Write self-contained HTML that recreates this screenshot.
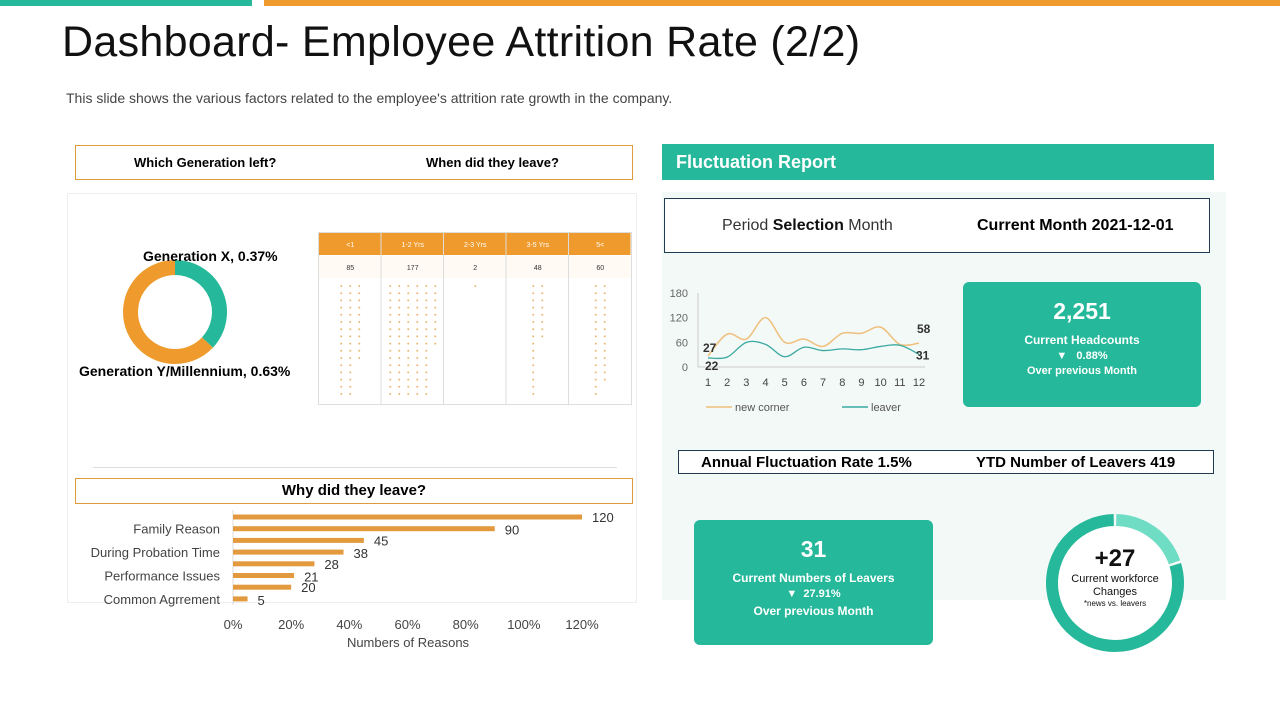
<!DOCTYPE html>
<html><head><meta charset="utf-8"><style>
body{margin:0;width:1280px;height:720px;background:#fff;font-family:"Liberation Sans",sans-serif;position:relative;overflow:hidden}
.a{position:absolute}
.box{position:absolute;border:1px solid #e09a3a;background:#fff}
.tbox{position:absolute;border:1px solid #1f3b52;background:#fff}
.card{position:absolute;background:#25b89a;border-radius:6px;color:#fff;text-align:center;font-weight:bold}
</style></head><body>
<div class="a" style="left:0;top:0;width:252px;height:6px;background:#25b89a"></div>
<div class="a" style="left:264px;top:0;width:1016px;height:6px;background:#ee9a2c"></div>
<div class="a" style="left:62px;top:18px;font-size:43px;color:#111;letter-spacing:0.3px">Dashboard- Employee Attrition Rate (2/2)</div>
<div class="a" style="left:66px;top:90px;font-size:14px;color:#444">This slide shows the various factors related to the employee's attrition rate growth in the company.</div>

<div class="a" style="left:67px;top:193px;width:568px;height:408px;border:1px solid #eee"></div>
<div class="box" style="left:75px;top:145px;width:556px;height:33px;font-size:13px;font-weight:bold">
<span class="a" style="left:58px;top:9px">Which Generation left?</span><span class="a" style="left:350px;top:9px">When did they leave?</span></div>

<svg class="a" style="left:0;top:0" width="640" height="480" id="gd"></svg>
<div class="a" style="left:143px;top:248px;font-size:14px;font-weight:bold">Generation X, 0.37%</div>
<div class="a" style="left:79px;top:363px;font-size:14px;font-weight:bold">Generation Y/Millennium, 0.63%</div>

<svg class="a" style="left:318px;top:232px" width="316" height="175" id="tt"></svg>
<div class="a" style="left:93px;top:467px;width:524px;height:1px;background:#ddd"></div>
<div class="box" style="left:75px;top:478px;width:556px;height:24px;font-size:15px;font-weight:bold;text-align:center;line-height:24px">Why did they leave?</div>
<svg class="a" style="left:0;top:500px" width="640" height="160" id="bc"></svg>

<div class="a" style="left:662px;top:144px;width:552px;height:36px;background:#25b89a;color:#fff;font-size:18px;font-weight:bold;line-height:36px;text-indent:14px">Fluctuation Report</div>
<div class="a" style="left:662px;top:192px;width:564px;height:408px;background:#f3f9f7"></div>
<div class="tbox" style="left:664px;top:198px;width:544px;height:53px;font-size:16px">
<span class="a" style="left:57px;top:18px;color:#333">Period <b style="color:#111">Selection</b> Month</span><span class="a" style="left:312px;top:18px;font-weight:bold">Current Month 2021-12-01</span></div>
<svg class="a" style="left:660px;top:280px" width="290" height="140" id="lc"></svg>
<div class="card" style="left:963px;top:282px;width:238px;height:125px">
<div style="font-size:23px;margin-top:16px">2,251</div><div style="font-size:12px;margin-top:8px">Current Headcounts</div><div style="font-size:11px;margin-top:3px">▼&nbsp;&nbsp; 0.88%</div><div style="font-size:11px;margin-top:3px">Over previous Month</div></div>
<div class="tbox" style="left:678px;top:450px;width:534px;height:22px;font-size:15px;font-weight:bold">
<span class="a" style="left:22px;top:3px">Annual Fluctuation Rate 1.5%</span><span class="a" style="left:297px;top:3px">YTD Number of Leavers 419</span></div>
<div class="card" style="left:694px;top:520px;width:239px;height:125px">
<div style="font-size:23px;margin-top:16px">31</div><div style="font-size:12px;margin-top:8px">Current Numbers of Leavers</div><div style="font-size:11px;margin-top:3px">▼&nbsp; 27.91%</div><div style="font-size:12px;margin-top:4px">Over previous Month</div></div>
<svg class="a" style="left:1040px;top:508px" width="150" height="150" id="wd"></svg>
<div class="a" style="left:1055px;top:545px;width:120px;text-align:center;color:#111">
<div style="font-size:24px;font-weight:bold">+27</div><div style="font-size:11px;line-height:13px">Current workforce<br>Changes</div><div style="font-size:8px">*news vs. leavers</div></div>
<script>
const NS="http://www.w3.org/2000/svg";
function mk(p,t,a){const e=document.createElementNS(NS,t);for(const k in a)e.setAttribute(k,a[k]);p.appendChild(e);return e;}
function arc(cx,cy,r,a0,a1){const x0=cx+r*Math.sin(a0),y0=cy-r*Math.cos(a0),x1=cx+r*Math.sin(a1),y1=cy-r*Math.cos(a1);return `M${x0} ${y0}A${r} ${r} 0 ${a1-a0>Math.PI?1:0} 1 ${x1} ${y1}`;}
// generation donut
const genLabels=["Generation X","Generation Y/Millennium"];
const genValues=[0.37,0.63];
const genColors=["#25b89a","#ee9a2c"];
// tenure
const tenureCats=["<1","1-2 Yrs","2-3 Yrs","3-5 Yrs","5<"];
const tenureValues=[85,177,2,48,60];
// reasons
const reasonValues=[120,90,45,38,28,21,20,5];
const reasonLabels=["","Family Reason","","During Probation Time","","Performance Issues","","Common Agrrement"];
const reasonTicks=["0%","20%","40%","60%","80%","100%","120%"];
// line chart
const months=["1","2","3","4","5","6","7","8","9","10","11","12"];
const newCorner=[27,80,68,120,60,68,50,82,82,97,55,58];
const leaver=[22,24,60,55,25,48,40,44,42,50,53,31];
const lineTicks=[0,60,120,180];
// workforce
const workforceParts=[20,80];

(function(){const s=document.getElementById('gd');let a=0;const tot=genValues.reduce((x,y)=>x+y,0);
genValues.forEach((v,i)=>{const a1=a+v/tot*2*Math.PI;const p=mk(s,'path',{d:arc(175,312,44.5,a,a1),fill:'none',stroke:genColors[i],'stroke-width':15});

a=a1;});})();

(function(){const s=document.getElementById('tt');const cw=62.5;
mk(s,'rect',{x:0.5,y:0.5,width:313,height:172,fill:'#fff',stroke:'#ddd'});
tenureCats.forEach((c,i)=>{const x=1+i*cw;
const h=mk(s,'rect',{x:x,y:1,width:cw-1,height:22,fill:'#ee9a2c'});


mk(s,'text',{x:x+cw/2,y:15,'text-anchor':'middle','font-size':7,fill:'#fff'}).textContent=c;
mk(s,'rect',{x:x,y:24,width:cw-1,height:22,fill:'#fffaf3'});
mk(s,'text',{x:x+cw/2,y:38,'text-anchor':'middle','font-size':7,fill:'#333'}).textContent=tenureValues[i];
if(i>0)mk(s,'line',{x1:x-0.5,y1:0,x2:x-0.5,y2:173,stroke:'#ddd'});
const n=Math.round(tenureValues[i]/2);const rows=16;const cols=Math.ceil(n/rows);
for(let k=0;k<n;k++){const col=Math.floor(k/rows),row=k%rows;const d=mk(s,'circle',{cx:x+cw/2-(cols-1)*4.5+col*9,cy:54+row*7.2,r:1,fill:'#e9b873'});

}
});})();

(function(){const s=document.getElementById('bc');const x0=233,x1=582,max=120;const X=v=>x0+v/max*(x1-x0);
mk(s,'line',{x1:x0,y1:10,x2:x0,y2:105,stroke:'#ddd'});
reasonValues.forEach((v,i)=>{const y=17+i*11.7;
const r=mk(s,'rect',{x:x0,y:y-2.5,width:X(v)-x0,height:5,fill:'#e39a3e'});


mk(s,'text',{x:X(v)+10,y:y+(i%2?6:5),'font-size':13,fill:'#333'}).textContent=v;
if(reasonLabels[i])mk(s,'text',{x:220,y:y+5,'text-anchor':'end','font-size':13,fill:'#444'}).textContent=reasonLabels[i];});
reasonTicks.forEach((t,i)=>{mk(s,'text',{x:X(i*20),y:129,'text-anchor':'middle','font-size':13,fill:'#444'}).textContent=t;});
mk(s,'text',{x:408,y:147,'text-anchor':'middle','font-size':13,fill:'#444'}).textContent='Numbers of Reasons';})();

(function(){const s=document.getElementById('lc');const X=i=>48+i*(259-48)/11;const Y=v=>87-v/180*74;
mk(s,'line',{x1:38,y1:13,x2:38,y2:87,stroke:'#ccc'});mk(s,'line',{x1:38,y1:87,x2:265,y2:87,stroke:'#ccc'});
lineTicks.forEach(t=>mk(s,'text',{x:28,y:Y(t)+4,'text-anchor':'end','font-size':11,fill:'#666'}).textContent=t);
months.forEach((m,i)=>mk(s,'text',{x:X(i),y:106,'text-anchor':'middle','font-size':11,fill:'#444'}).textContent=m);
function path(vals){const P=vals.map((v,i)=>[X(i),Y(v)]);let d='M'+P[0][0]+' '+P[0][1];
for(let i=0;i<P.length-1;i++){const p0=P[i-1]||P[i],p1=P[i],p2=P[i+1],p3=P[i+2]||p2;
d+=`C${p1[0]+(p2[0]-p0[0])/6} ${p1[1]+(p2[1]-p0[1])/6} ${p2[0]-(p3[0]-p1[0])/6} ${p2[1]-(p3[1]-p1[1])/6} ${p2[0]} ${p2[1]}`;}return d;}
const p1=mk(s,'path',{d:path(newCorner),fill:'none',stroke:'#efbf7c','stroke-width':1.5});


const p2=mk(s,'path',{d:path(leaver),fill:'none',stroke:'#3aa9a0','stroke-width':1.3});


mk(s,'text',{x:43,y:Y(newCorner[0])-4,'font-size':12,'font-weight':'bold',fill:'#333'}).textContent=newCorner[0];
mk(s,'text',{x:45,y:Y(leaver[0])+12,'font-size':12,'font-weight':'bold',fill:'#333'}).textContent=leaver[0];
mk(s,'text',{x:257,y:Y(newCorner[11])-10,'font-size':12,'font-weight':'bold',fill:'#333'}).textContent=newCorner[11];
mk(s,'text',{x:256,y:Y(leaver[11])+5,'font-size':12,'font-weight':'bold',fill:'#333'}).textContent=leaver[11];
mk(s,'line',{x1:46,y1:127,x2:72,y2:127,stroke:'#efbf7c','stroke-width':1.5});
mk(s,'text',{x:75,y:131,'font-size':11,fill:'#555'}).textContent='new corner';
mk(s,'line',{x1:182,y1:127,x2:208,y2:127,stroke:'#3aa9a0','stroke-width':1.5});
mk(s,'text',{x:211,y:131,'font-size':11,fill:'#555'}).textContent='leaver';})();

(function(){const s=document.getElementById('wd');const cols=['#6fdcc4','#25b89a'];let a=0;const tot=workforceParts[0]+workforceParts[1];
mk(s,'circle',{cx:75,cy:75,r:57,fill:'#fff'});
workforceParts.forEach((v,i)=>{const a1=a+v/tot*2*Math.PI;const p=mk(s,'path',{d:arc(75,75,63,a+0.02,a1-0.02),fill:'none',stroke:cols[i],'stroke-width':12});

a=a1;});})();
</script>
</body></html>
